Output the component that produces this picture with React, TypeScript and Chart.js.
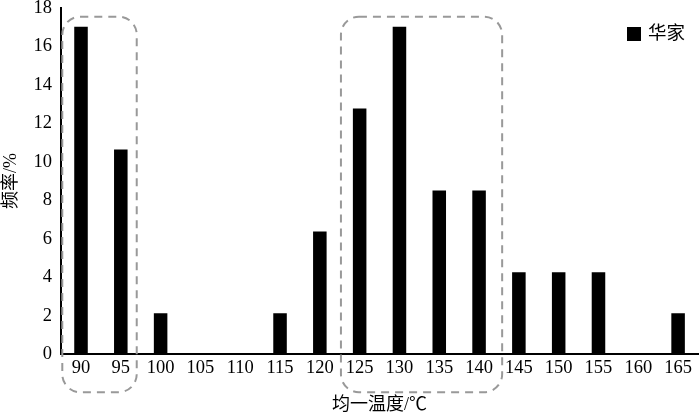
import React, { useEffect, useRef } from "react";
import { Chart, registerables } from "chart.js";

Chart.register(...registerables);

const categories = ["90", "95", "100", "105", "110", "115", "120", "125", "130", "135", "140", "145", "150", "155", "160", "165"];
const frequency = [17.02, 10.64, 2.13, 0, 0, 2.13, 6.38, 12.77, 17.02, 8.51, 8.51, 4.26, 4.26, 4.26, 0, 2.13];
const seriesName = "华家";
const yTitle = "频率/%";
const xTitle = "均一温度/℃";
// groups highlighted with dashed boxes: [first category index, last category index]
const groups: [number, number][] = [[0, 1], [7, 10]];

const FONT = "'Liberation Serif', 'Noto Sans CJK SC', serif";

// extra space (in category widths) around each highlighted group: [left, right]
const groupMargins: [number, number][] = [[0.47, 0.4], [0.47, 0.58]];

const groupBoxPlugin = {
  id: "groupBoxes",
  afterDatasetsDraw(chart: any) {
    const { ctx, scales, chartArea } = chart;
    const x = scales.x;
    const y = scales.y;
    const step = x.getPixelForValue(1) - x.getPixelForValue(0);
    ctx.save();
    ctx.strokeStyle = "#999999";
    ctx.lineWidth = 2;
    ctx.setLineDash([8, 6]);
    groups.forEach(([a, b], i) => {
      const [ml, mr] = groupMargins[i];
      const left = x.getPixelForValue(a) - step * ml;
      const right = x.getPixelForValue(b) + step * mr;
      const top = y.getPixelForValue(17.55);
      const bottom = chartArea.bottom + 38;
      ctx.beginPath();
      ctx.roundRect(left, top, right - left, bottom - top, 18);
      ctx.stroke();
    });
    ctx.restore();
  },
};

const legendPlugin = {
  id: "cornerLegend",
  afterDraw(chart: any) {
    const { ctx, chartArea } = chart;
    const ds = chart.data.datasets[0];
    ctx.save();
    ctx.font = `18.5px ${FONT}`;
    const tw = ctx.measureText(ds.label).width;
    const textX = chartArea.right - 13 - tw;
    const cy = chartArea.top + 26;
    ctx.fillStyle = ds.backgroundColor;
    ctx.fillRect(textX - 21, cy - 7, 14, 14);
    ctx.fillStyle = "#000";
    ctx.textBaseline = "middle";
    ctx.fillText(ds.label, textX, cy);
    ctx.restore();
  },
};

export default function App() {
  const ref = useRef<HTMLCanvasElement | null>(null);
  useEffect(() => {
    if (!ref.current) return;
    const chart = new Chart(ref.current, {
      type: "bar",
      data: {
        labels: categories,
        datasets: [
          {
            label: seriesName,
            data: frequency,
            backgroundColor: "#000000",
            borderWidth: 0,
            barPercentage: 0.34,
            categoryPercentage: 1,
          },
        ],
      },
      options: {
        animation: false,
        responsive: false,
        maintainAspectRatio: false,
        layout: { padding: { top: 8, right: 2, left: 0, bottom: 0 } },
        plugins: {
          legend: { display: false },
          tooltip: { enabled: false },
        },
        scales: {
          x: {
            grid: { display: false, drawTicks: false },
            border: { display: true, color: "#000", width: 2 },
            ticks: { color: "#000", font: { family: FONT, size: 18.5 }, padding: 3, maxRotation: 0, autoSkip: false },
            title: { display: true, text: xTitle, color: "#000", font: { family: FONT, size: 18 }, padding: { top: 12, bottom: 0 } },
          },
          y: {
            min: 0,
            max: 18,
            grid: { display: false, drawTicks: false },
            border: { display: true, color: "#000", width: 2 },
            ticks: { stepSize: 2, color: "#000", font: { family: FONT, size: 18.5 }, padding: 9 },
            title: { display: true, text: yTitle, color: "#000", font: { family: FONT, size: 18 }, padding: { top: 0, bottom: 3 } },
            afterFit(scale: any) {
              scale.paddingTop = 0;
              scale.paddingBottom = 0;
            },
          },
        },
      },
      plugins: [groupBoxPlugin, legendPlugin],
    });
    return () => chart.destroy();
  }, []);
  return (
    <div style={{ position: "fixed", left: 0, top: 0, width: 700, height: 416, background: "#fff" }}>
      <canvas ref={ref} width={700} height={416} />
    </div>
  );
}
